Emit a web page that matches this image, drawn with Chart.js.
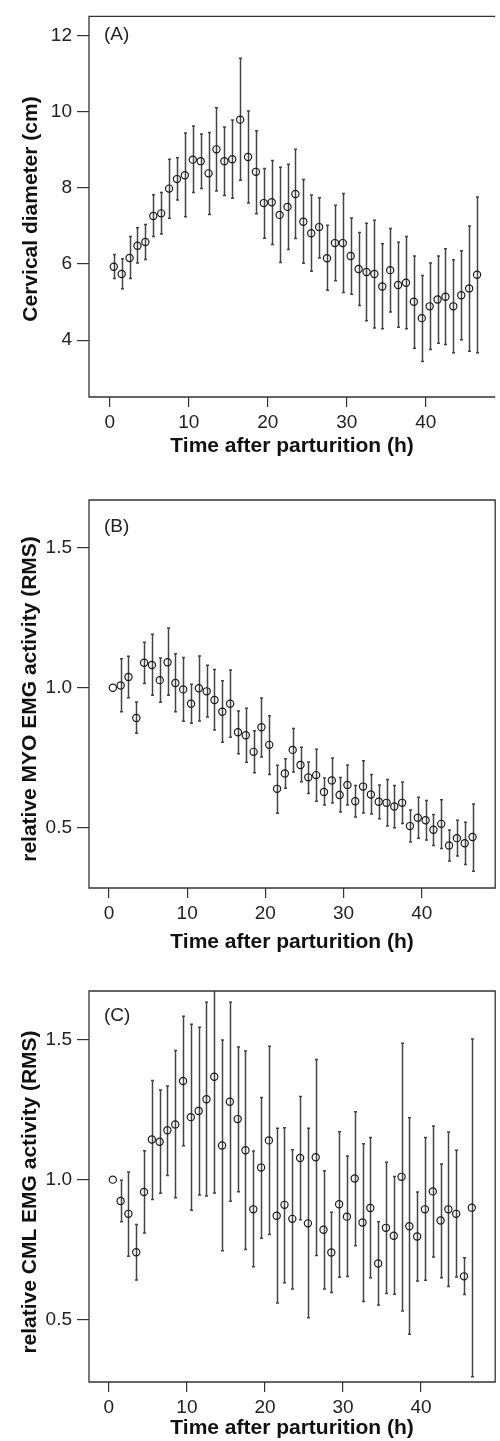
<!DOCTYPE html>
<html>
<head>
<meta charset="utf-8">
<script src="https://cdn.jsdelivr.net/npm/chart.js@4.4.1/dist/chart.umd.min.js"></script>
<style>
  html, body { margin: 0; padding: 0; background: #fff; }
  #wrap { position: relative; width: 500px; height: 1441px; }
  .pane { position: absolute; left: 0; width: 500px; }
</style>
</head>
<body>
<div id="wrap">
  <div class="pane" style="top:0px"><canvas id="chartA" width="500" height="470"></canvas></div>
  <div class="pane" style="top:470px"><canvas id="chartB" width="500" height="490"></canvas></div>
  <div class="pane" style="top:960px"><canvas id="chartC" width="500" height="481"></canvas></div>
</div>
<script>
// hours after parturition (bin centres)
const hours = [0.5, 1.5, 2.5, 3.5, 4.5, 5.5, 6.5, 7.5, 8.5, 9.5,
  10.5, 11.5, 12.5, 13.5, 14.5, 15.5, 16.5, 17.5, 18.5, 19.5,
  20.5, 21.5, 22.5, 23.5, 24.5, 25.5, 26.5, 27.5, 28.5, 29.5,
  30.5, 31.5, 32.5, 33.5, 34.5, 35.5, 36.5, 37.5, 38.5, 39.5,
  40.5, 41.5, 42.5, 43.5, 44.5, 45.5, 46.5];
const xTicks = [0, 10, 20, 30, 40];

// (A) cervical diameter, cm
const diamMean = [5.93, 5.74, 6.16, 6.48, 6.58, 7.26, 7.33, 7.98, 8.23, 8.33,
  8.74, 8.70, 8.38, 9.01, 8.70, 8.75, 9.79, 8.81, 8.42, 7.60,
  7.62, 7.29, 7.50, 7.84, 7.11, 6.81, 6.97, 6.15, 6.55, 6.55,
  6.21, 5.87, 5.79, 5.74, 5.41, 5.84, 5.45, 5.51, 5.01, 4.58,
  4.89, 5.07, 5.14, 4.89, 5.18, 5.36, 5.72];
const diamHigh = [6.25, 6.14, 6.72, 6.95, 7.04, 7.82, 7.88, 8.75, 8.79, 9.44,
  9.62, 9.41, 9.45, 10.10, 9.60, 9.78, 11.40, 10.02, 9.50, 8.51,
  8.72, 8.54, 8.62, 9.01, 8.22, 7.81, 7.74, 7.02, 7.54, 7.85,
  7.21, 6.83, 7.07, 7.15, 6.53, 6.93, 6.57, 6.72, 6.21, 5.70,
  6.03, 6.21, 6.40, 6.11, 6.35, 7.00, 7.76];
const diamLow = [5.62, 5.35, 5.62, 6.03, 6.12, 6.72, 6.79, 7.20, 7.68, 7.24,
  7.88, 7.98, 7.30, 7.92, 7.80, 7.73, 8.20, 7.60, 7.32, 6.68,
  6.51, 6.04, 6.38, 6.67, 6.02, 5.81, 6.16, 5.31, 5.56, 5.25,
  5.21, 4.91, 4.51, 4.32, 4.30, 4.74, 4.34, 4.30, 3.79, 3.44,
  3.76, 3.92, 3.89, 3.67, 4.01, 3.71, 3.67];
const diamTicks = [4, 6, 8, 10, 12];

// (B) relative MYO EMG activity
const myoMean = [1.000, 1.008, 1.038, 0.892, 1.089, 1.081, 1.027, 1.091, 1.017, 0.994,
  0.943, 0.998, 0.987, 0.956, 0.914, 0.943, 0.841, 0.830, 0.771, 0.859,
  0.796, 0.639, 0.694, 0.778, 0.724, 0.680, 0.688, 0.628, 0.669, 0.617,
  0.653, 0.595, 0.647, 0.619, 0.593, 0.589, 0.576, 0.589, 0.506, 0.536,
  0.527, 0.493, 0.514, 0.437, 0.463, 0.445, 0.467];
const myoHigh = [1.000, 1.103, 1.112, 0.949, 1.162, 1.191, 1.106, 1.213, 1.121, 1.108,
  1.012, 1.113, 1.080, 1.065, 1.025, 1.063, 0.917, 0.927, 0.846, 0.963,
  0.900, 0.723, 0.746, 0.854, 0.787, 0.735, 0.780, 0.678, 0.749, 0.679,
  0.724, 0.651, 0.739, 0.690, 0.653, 0.672, 0.651, 0.663, 0.563, 0.609,
  0.597, 0.547, 0.600, 0.492, 0.527, 0.520, 0.585];
const myoLow = [1.000, 0.914, 0.964, 0.837, 1.015, 0.973, 0.948, 0.973, 0.914, 0.880,
  0.873, 0.881, 0.895, 0.849, 0.805, 0.823, 0.764, 0.734, 0.696, 0.753,
  0.690, 0.552, 0.641, 0.699, 0.664, 0.622, 0.595, 0.581, 0.588, 0.556,
  0.581, 0.538, 0.553, 0.549, 0.532, 0.506, 0.500, 0.515, 0.449, 0.463,
  0.456, 0.437, 0.426, 0.381, 0.399, 0.369, 0.345];

// (C) relative CML EMG activity
const cmlMean = [1.000, 0.924, 0.878, 0.741, 0.956, 1.143, 1.135, 1.176, 1.197, 1.352,
  1.223, 1.245, 1.287, 1.367, 1.122, 1.278, 1.216, 1.105, 0.894, 1.043,
  1.140, 0.871, 0.910, 0.860, 1.077, 0.844, 1.080, 0.821, 0.740, 0.912,
  0.868, 1.004, 0.847, 0.899, 0.701, 0.828, 0.800, 1.010, 0.834, 0.797,
  0.894, 0.958, 0.854, 0.894, 0.878, 0.655, 0.900];
const cmlHigh = [1.000, 0.998, 1.027, 0.840, 1.103, 1.354, 1.320, 1.334, 1.461, 1.583,
  1.554, 1.544, 1.633, 1.780, 1.498, 1.633, 1.473, 1.459, 1.102, 1.293,
  1.476, 1.183, 1.185, 1.107, 1.297, 1.183, 1.429, 1.032, 0.884, 1.171,
  1.084, 1.242, 1.128, 1.150, 0.850, 1.062, 1.011, 1.487, 1.221, 0.956,
  1.150, 1.191, 1.056, 1.170, 1.105, 0.721, 1.502];
const cmlLow = [1.000, 0.850, 0.727, 0.642, 0.810, 0.929, 0.951, 1.015, 0.935, 1.121,
  0.891, 0.945, 0.942, 0.952, 0.746, 0.923, 0.957, 0.751, 0.689, 0.791,
  0.804, 0.560, 0.632, 0.610, 0.857, 0.507, 0.729, 0.610, 0.597, 0.652,
  0.654, 0.764, 0.565, 0.650, 0.553, 0.594, 0.591, 0.531, 0.448, 0.638,
  0.641, 0.724, 0.650, 0.619, 0.653, 0.590, 0.297];
const emgTicks = [0.5, 1.0, 1.5];

const FONT = "'Liberation Sans', Arial, Helvetica, sans-serif";

// error bars drawn under the circles, clipped to the plot box
const errorBars = {
  id: "errorBars",
  beforeDatasetsDraw(chart) {
    const { ctx, chartArea: a, scales: { x, y } } = chart;
    ctx.save();
    ctx.beginPath();
    ctx.rect(a.left, a.top, a.right - a.left, a.bottom - a.top);
    ctx.clip();
    ctx.strokeStyle = "#444";
    ctx.lineWidth = 1.5;
    for (const ds of chart.data.datasets) {
      ds.data.forEach((p, i) => {
        const px = Math.round(x.getPixelForValue(p.x)) + 0.5;
        const top = y.getPixelForValue(ds.high[i]);
        const bot = y.getPixelForValue(ds.low[i]);
        if (bot - top < 1) {
          return;
        }
        ctx.beginPath();
        ctx.moveTo(px, top);
        ctx.lineTo(px, bot);
        ctx.moveTo(px - 1.5, top);
        ctx.lineTo(px + 1.5, top);
        ctx.moveTo(px - 1.5, bot);
        ctx.lineTo(px + 1.5, bot);
        ctx.stroke();
      });
    }
    ctx.restore();
  },
};

// box round the plot, panel letter and the rotated y title
const panelDecor = {
  id: "panelDecor",
  afterDraw(chart) {
    const o = chart.options.plugins.panelDecor;
    const { ctx, chartArea: a } = chart;
    ctx.save();
    ctx.strokeStyle = "#333";
    ctx.lineWidth = 1.3;
    ctx.beginPath();
    // panel A is cut at the right edge in the source figure
    if (o.openRight) {
      ctx.moveTo(a.right, a.top);
      ctx.lineTo(a.left, a.top);
      ctx.lineTo(a.left, a.bottom);
      ctx.lineTo(a.right, a.bottom);
    } else {
      ctx.rect(a.left, a.top, a.right - a.left, a.bottom - a.top);
    }
    ctx.stroke();

    ctx.fillStyle = "#222";
    ctx.font = "19px " + FONT;
    ctx.textAlign = "left";
    ctx.textBaseline = "middle";
    ctx.fillText(o.label, a.left + 15, o.labelY);

    ctx.fillStyle = "#111";
    ctx.font = "bold 21px " + FONT;
    ctx.textAlign = "center";
    ctx.translate(o.titleX, o.titleY);
    ctx.rotate(-Math.PI / 2);
    ctx.fillText(o.yTitle, 0, 0);
    ctx.restore();
  },
};

function makePanel(id, p) {
  const canvas = document.getElementById(id);
  return new Chart(canvas, {
    type: "scatter",
    data: {
      datasets: [{
        data: hours.map((h, i) => ({ x: h, y: p.mean[i] })),
        high: p.high,
        low: p.low,
        pointStyle: "circle",
        pointRadius: 3.6,
        pointHoverRadius: 3.6,
        pointBorderWidth: 1.2,
        borderColor: "#1a1a1a",
        backgroundColor: "rgba(0,0,0,0)",
      }],
    },
    options: {
      responsive: false,
      animation: false,
      events: [],
      layout: { padding: { left: 0, top: p.padTop, right: p.padRight, bottom: 0 } },
      plugins: {
        legend: { display: false },
        tooltip: { enabled: false },
        panelDecor: p.decor,
      },
      scales: {
        x: {
          type: "linear",
          min: p.xMin,
          max: p.xMax,
          afterBuildTicks: (s) => { s.ticks = xTicks.map((v) => ({ value: v })); },
          afterFit: (s) => { s.height = p.xAxisH; },
          grid: { drawOnChartArea: false, drawTicks: true, tickLength: 10, color: "#333", lineWidth: 1.2 },
          border: { display: false },
          ticks: { font: { family: FONT, size: 19 }, color: "#222", padding: 4, maxRotation: 0, autoSkip: false },
          title: {
            display: true,
            text: "Time after parturition (h)",
            color: "#111",
            font: { family: FONT, size: 21, weight: "bold" },
            padding: { top: 0, bottom: p.xTitlePad },
          },
        },
        y: {
          type: "linear",
          min: p.yMin,
          max: p.yMax,
          afterBuildTicks: (s) => { s.ticks = p.yTicks.map((v) => ({ value: v })); },
          afterFit: (s) => { s.width = 89; },
          grid: { drawOnChartArea: false, drawTicks: true, tickLength: 12, color: "#333", lineWidth: 1.2 },
          border: { display: false },
          ticks: {
            font: { family: FONT, size: 19 },
            color: "#222",
            padding: 5,
            autoSkip: false,
            callback: (v) => v.toFixed(p.decimals),
          },
        },
      },
    },
    plugins: [errorBars, panelDecor],
  });
}

makePanel("chartA", {
  mean: diamMean, high: diamHigh, low: diamLow, yTicks: diamTicks, decimals: 0,
  xMin: -2.64, xMax: 48.8, yMin: 2.51, yMax: 12.5,
  padTop: 7, padRight: 1, xAxisH: 73, xTitlePad: 11,
  decor: { label: "(A)", labelY: 35, yTitle: "Cervical diameter (cm)", titleX: 31, titleY: 209, openRight: true },
});

makePanel("chartB", {
  mean: myoMean, high: myoHigh, low: myoLow, yTicks: emgTicks, decimals: 1,
  xMin: -2.55, xMax: 49.4, yMin: 0.285, yMax: 1.67,
  padTop: 30, padRight: 2, xAxisH: 72, xTitlePad: 5,
  decor: { label: "(B)", labelY: 57, yTitle: "relative MYO EMG activity (RMS)", titleX: 30, titleY: 229 },
});

makePanel("chartC", {
  mean: cmlMean, high: cmlHigh, low: cmlLow, yTicks: emgTicks, decimals: 1,
  xMin: -2.55, xMax: 49.5, yMin: 0.278, yMax: 1.673,
  padTop: 31, padRight: 1, xAxisH: 59, xTitlePad: 0,
  decor: { label: "(C)", labelY: 56, yTitle: "relative CML EMG activity (RMS)", titleX: 30, titleY: 232 },
});
</script>
</body>
</html>
